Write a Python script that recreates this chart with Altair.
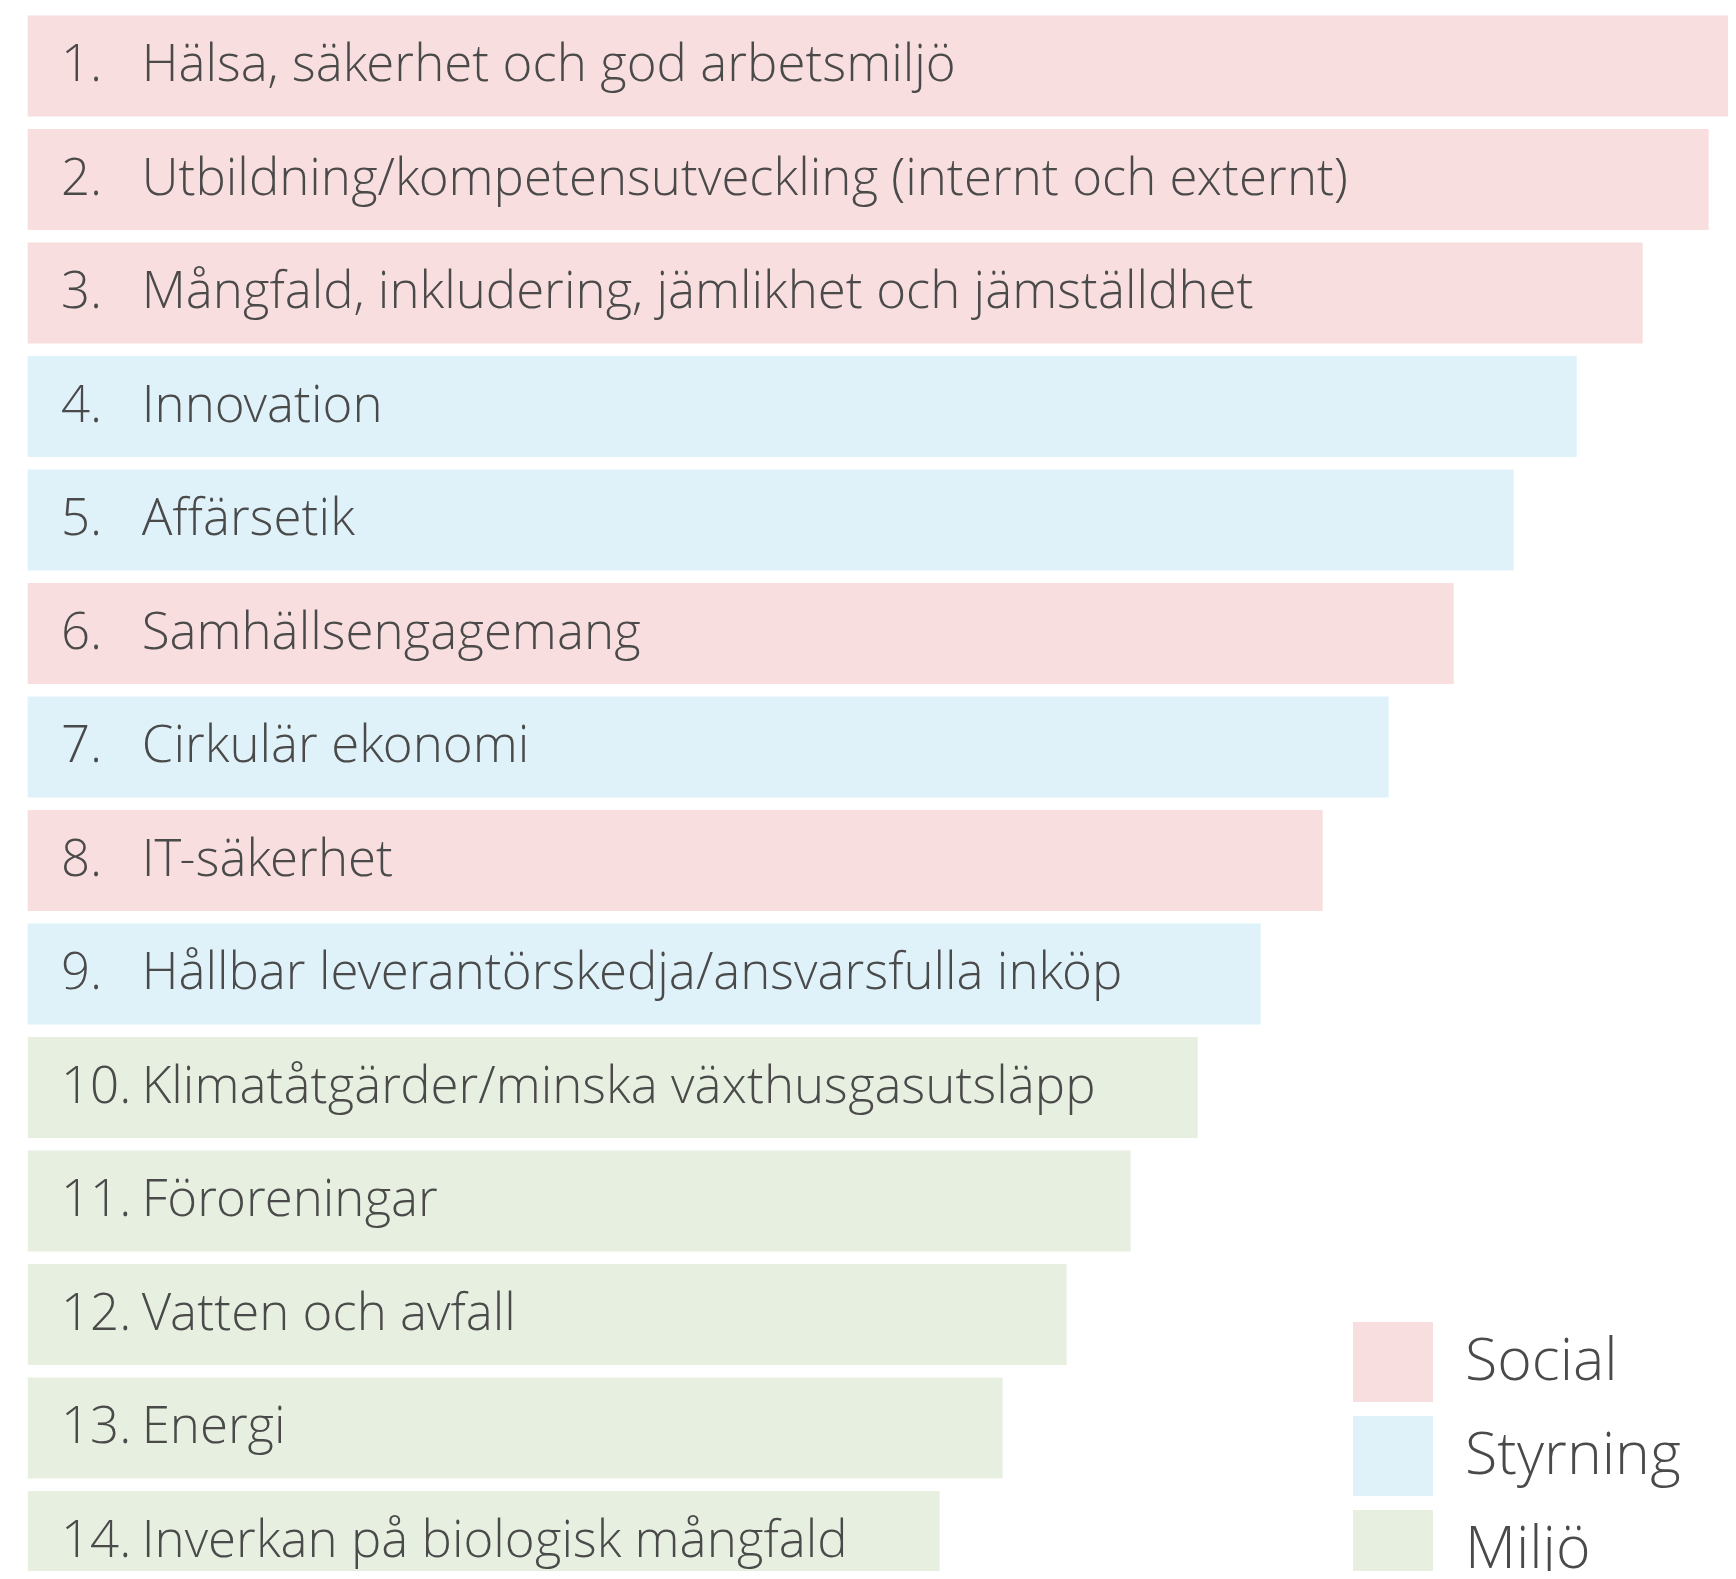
import altair as alt
import pandas as pd

ranks = ["1.", "2.", "3.", "4.", "5.", "6.", "7.", "8.", "9.", "10.", "11.", "12.", "13.", "14."]
topics = [
    "Hälsa, säkerhet och god arbetsmiljö",
    "Utbildning/kompetensutveckling (internt och externt)",
    "Mångfald, inkludering, jämlikhet och jämställdhet",
    "Innovation",
    "Affärsetik",
    "Samhällsengagemang",
    "Cirkulär ekonomi",
    "IT-säkerhet",
    "Hållbar leverantörskedja/ansvarsfulla inköp",
    "Klimatåtgärder/minska växthusgasutsläpp",
    "Föroreningar",
    "Vatten och avfall",
    "Energi",
    "Inverkan på biologisk mångfald",
]
areas = ["Social", "Social", "Social", "Styrning", "Styrning", "Social", "Styrning",
         "Social", "Styrning", "Miljö", "Miljö", "Miljö", "Miljö", "Miljö"]
values = [174.6, 168.1, 161.5, 154.9, 148.6, 142.6, 136.1, 129.5, 123.3, 117.0, 110.3, 103.9, 97.5, 91.2]

area_order = ["Social", "Styrning", "Miljö"]
area_colors = ["#f9dedf", "#dff2f9", "#e7f0e0"]

df = pd.DataFrame({"rank": ranks, "topic": topics, "area": areas, "value": values})

FONT = "'Open Sans Light', 'Open Sans', sans-serif"
TXT = "#4a4a4a"

y_enc = alt.Y("rank:N", sort=ranks, axis=None,
              scale=alt.Scale(range=[1.3, 1590.3], paddingInner=0.11, paddingOuter=0.055))

bars = alt.Chart(df).mark_bar(clip=True).encode(
    x=alt.X("value:Q", axis=None, scale=alt.Scale(domain=[0, 175], range=[19.7, 1769.7])),
    y=y_enc,
    color=alt.Color("area:N", scale=alt.Scale(domain=area_order, range=area_colors),
                    legend=alt.Legend(
                        title=None, orient="none", legendX=1345, legendY=1314,
                        symbolType="square", symbolSize=6400, symbolStrokeWidth=0,
                        symbolOpacity=1,
                        labelFont=FONT, labelFontSize=59, labelFontWeight=300,
                        labelColor=TXT, labelOffset=32, rowPadding=14, padding=0,
                        labelLimit=400)),
)

num_text = alt.Chart(df).mark_text(
    align="left", baseline="middle", font=FONT, fontSize=51, fontWeight=300,
    color=TXT, clip=True
).encode(x=alt.value(53), y=y_enc, text="rank:N")

topic_text = alt.Chart(df).mark_text(
    align="left", baseline="middle", font=FONT, fontSize=51, fontWeight=300,
    color=TXT, clip=True
).encode(x=alt.value(133.7), y=y_enc, text="topic:N")

chart = alt.layer(bars, num_text, topic_text).properties(
    width=1720, height=1563, padding=0, autosize=alt.AutoSizeParams(type="none")
).configure_view(stroke=None)

chart.save("out.html", embed_options={"renderer": "svg", "actions": False})
